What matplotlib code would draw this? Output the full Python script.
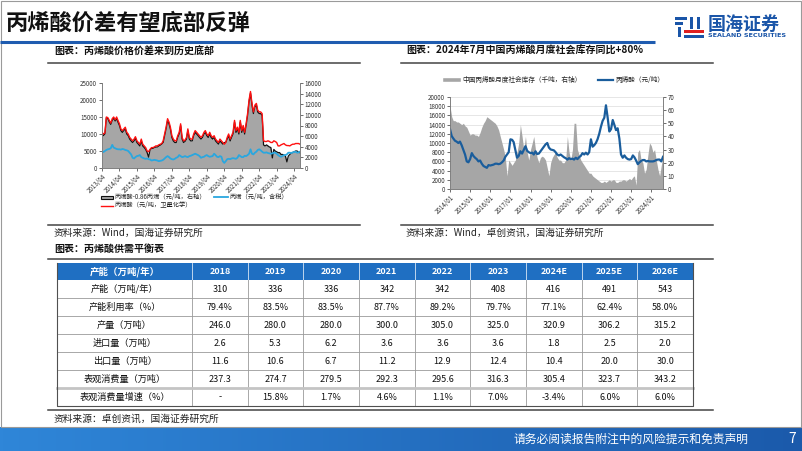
import numpy as np
import pandas as pd
import matplotlib
matplotlib.use("Agg")
import matplotlib.pyplot as plt
from matplotlib.patches import Rectangle
from matplotlib.colors import LinearSegmentedColormap

plt.rcParams['font.family'] = ['Noto Sans CJK SC', 'DejaVu Sans']
plt.rcParams['axes.unicode_minus'] = False

W, H = 802, 451

# ---------------- left chart: monthly from 2013/04 ----------------
left_start = '2013-04-01'
# 丙烯酸（元/吨，卫星化学） - left axis
acrylic_price = [
    10500, 10000, 10300, 15000, 14800, 14000, 13200, 14500, 15000,
    14200, 15000, 14000, 13000, 11500, 11000, 11500, 12000, 10500, 10000, 9000, 8500,
    8000, 8500, 9200, 8000, 7500, 7000, 8500, 7000, 6500, 6000, 5000, 4800,
    5500, 6000, 6000, 6200, 6500, 6500, 6800, 7000, 7200, 8000, 10000, 12000,
    14500, 13500, 12000, 9500, 8500, 8000, 8000, 9500, 10500, 13000, 9000, 8000,
    8200, 9000, 11500, 9000, 8500, 8500, 10000, 11000, 10500, 10000, 9500, 9000,
    9500, 10500, 11000, 10000, 9500, 10500, 9500, 9000, 9500, 8500, 8000, 7500,
    8500, 8000, 7500, 7000, 7500, 9000, 10000, 8500, 9500, 10500, 14000, 11000,
    12000, 10500, 14000, 11000, 12500, 10500, 13000, 16000, 20000, 22500, 19000, 16500,
    18500, 19000, 17000, 16500, 16500, 16000, 8000, 7800, 7800, 8000, 7800, 7500,
    7500, 8000, 7800, 7500, 6500, 6500, 6800, 7000, 7200, 6800, 6600, 6600,
    6500, 6800, 7000, 7000, 7200, 7200, 7200, 7000,
]
# 丙烯（元/吨，含税） - left axis
propylene_price = [
    4900, 4700, 5000, 5300, 5500, 5600, 5800, 6800, 6000,
    5800, 5600, 5500, 5500, 5400, 5600, 5500, 5300, 5200, 5000, 4500, 4000,
    3000, 2800, 3200, 3500, 3600, 3800, 3200, 3000, 2800, 2700, 2800, 2600,
    2500, 2200, 2300, 2400, 2300, 2200, 2000, 2100, 2200, 2400, 2800, 3200,
    3500, 3200, 2800, 2600, 2500, 2700, 3000, 3200, 3800, 3500, 3200, 3300,
    3500, 3300, 3200, 3500, 3600, 3800, 4000, 4200, 4000, 3800, 3500, 3000,
    3200, 3300, 3600, 3800, 3500, 3300, 3400, 3500, 4200, 3800, 3300, 3200,
    3500, 3300, 2000, 1500, 2000, 2600, 2700, 2600, 2800, 2900, 2800, 2700,
    3000, 3800, 3500, 3200, 3200, 3600, 3500, 3800, 4200, 5500, 4200, 4000,
    4500, 4800, 5300, 5500, 5200, 4800, 4500, 4500, 4600, 4400, 4300, 4200,
    4300, 4500, 4500, 4200, 3800, 3500, 3300, 3500, 3800, 3800, 4000, 4500,
    4500, 4400, 4600, 4700, 4800, 4500, 4600, 4800,
]
# 丙烯酸-0.86丙烯（元/吨，右轴）
spread = [
    6600, 6100, 6400, 9450, 9300, 8650, 8200, 8950, 9400,
    8850, 9300, 8650, 8000, 7050, 6700, 7050, 7350, 6400, 6100, 5450, 5100,
    4800, 5100, 5650, 4800, 4500, 4150, 5100, 4150, 3850, 3500, 2900, 2050,
    3400, 3700, 3700, 3850, 3950, 3950, 4150, 4300, 4500, 4800, 6100, 7350,
    8950, 8300, 7350, 5750, 5100, 4800, 4800, 5750, 6400, 8000, 5450, 4800,
    5000, 5450, 7050, 5450, 5100, 5100, 6100, 6700, 6400, 6100, 5750, 5450,
    5750, 6400, 6700, 6100, 5750, 6400, 5750, 5450, 5750, 5100, 4800, 4500,
    5100, 4800, 4500, 4800, 4800, 5450, 6100, 5100, 5750, 6400, 8650, 6700,
    7350, 6400, 8650, 6700, 7700, 6400, 8000, 9900, 12500, 14100, 11850, 10250,
    11500, 11850, 10550, 10250, 10250, 9900, 4350, 4150, 4350, 4150, 3950, 3850,
    1900, 3500, 3200, 3050, 2900, 2900, 2550, 2550, 2450, 2250, 1150, 2250,
    2550, 2800, 2900, 3050, 3200, 3200, 2950, 2900,
]
left_tick_labels = ['2013/04', '2014/04', '2015/04', '2016/04', '2017/04', '2018/04',
                    '2019/04', '2020/04', '2021/04', '2022/04', '2023/04', '2024/04']

# ---------------- right chart: monthly from 2014/01 ----------------
right_start = '2014-01-01'
# 丙烯酸（元/吨） - left axis
acrylic_monthly = [
    13000, 11500, 11000, 10500, 10300, 10000, 10300, 9500, 8500, 7500, 6000, 5800,
    6500, 7800, 7200, 6800, 6500, 6000, 6200, 5500, 5000, 4800, 4600, 5200,
    5100, 5200, 5300, 5500, 5500, 5400, 5500, 5800, 6200, 7000, 7500, 8000,
    10800, 10700, 10200, 8500, 6800, 7200, 8200, 7700, 8500, 9300, 8300, 8000,
    7800, 7900, 7500, 8200, 7600, 7700, 8200, 8700, 9200, 9700, 10000, 9000,
    8600, 8500, 8400, 8000, 7500, 7300, 7500, 7200, 6900, 6700, 6400, 6700,
    6500, 6600, 6400, 6800, 6500, 6900, 7200, 7800, 7500, 7900, 7500, 8000,
    10800, 9200, 9500, 10000, 10800, 12000, 13500, 14800, 15500, 18200, 15500, 12500,
    13000, 15000, 14000, 12800, 13200, 11000, 7500, 6800, 7300, 6800, 6500, 6400,
    6500, 7300, 6900, 6200, 5400, 5800, 6100, 6300, 6300, 6000, 6100, 6000,
    6000, 6000, 6100, 6300, 6400, 6400, 6000, 7000,
]
# 中国丙烯酸月度社会库存（千吨，右轴）
inventory = [
    63, 55, 52, 52, 51, 51, 50, 49, 50, 48, 47, 44,
    41, 42, 42, 41, 41, 40, 43, 47, 50, 52, 55, 54,
    53, 52, 51, 50, 48, 45, 40, 35, 30, 24, 10, 22,
    20, 18, 20, 22, 28, 35, 49, 40, 30, 40, 28, 22,
    30, 35, 40, 30, 24, 20, 24, 25, 24, 22, 16, 10,
    20, 24, 26, 28, 24, 22, 22, 20, 20, 22, 40, 28,
    22, 30, 50, 50, 30, 26, 22, 20, 18, 16, 14, 12,
    12, 10, 9, 8, 7, 6, 5, 5, 6, 5, 6, 7,
    6, 7, 7, 5, 5, 6, 6, 7, 7, 6, 7, 8,
    7, 9, 10, 3, 28, 30, 22, 20, 12, 15, 26, 35,
    33, 28, 30, 22, 15, 10, 18, 25,
]
right_tick_labels = ['2014/01', '2015/01', '2016/01', '2017/01', '2018/01', '2019/01',
                     '2020/01', '2021/01', '2022/01', '2023/01', '2024/01']

# ---------------- table ----------------
years = ['2018', '2019', '2020', '2021', '2022', '2023', '2024E', '2025E', '2026E']
row_labels = ['产能（万吨/年）', '产能利用率（%）', '产量（万吨）', '进口量（万吨）',
              '出口量（万吨）', '表观消费量（万吨）', '表观消费量增速（%）']
capacity = [310, 336, 336, 342, 342, 408, 416, 491, 543]
utilization = [79.4, 83.5, 83.5, 87.7, 89.2, 79.7, 77.1, 62.4, 58.0]
production = [246.0, 280.0, 280.0, 300.0, 305.0, 325.0, 320.9, 306.2, 315.2]
imports = [2.6, 5.3, 6.2, 3.6, 3.6, 3.6, 1.8, 2.5, 2.0]
exports = [11.6, 10.6, 6.7, 11.2, 12.9, 12.4, 10.4, 20.0, 30.0]
consumption = [237.3, 274.7, 279.5, 292.3, 295.6, 316.3, 305.4, 323.7, 343.2]
growth = [None, 15.8, 1.7, 4.6, 1.1, 7.0, -3.4, 6.0, 6.0]

GRAY_AREA = '#a6a6a6'
RED = '#ff1010'
CYAN = '#2aa7df'
NAVY = '#1a5d9c'


def px_box(x0, y0, x1, y1):
    return [x0 / W, 1 - y1 / H, (x1 - x0) / W, (y1 - y0) / H]


fig = plt.figure(figsize=(W / 100, H / 100), dpi=100)
bg = fig.add_axes([0, 0, 1, 1])
bg.axis('off')

# footer gradient bar
cmap = LinearSegmentedColormap.from_list('foot', ['#2f86d8', '#1b5aab'])
bg.imshow(np.linspace(0, 1, 256).reshape(1, -1), cmap=cmap, aspect='auto',
          extent=[0, W, 451, 427])
bg.set_xlim(0, W)
bg.set_ylim(H, 0)

# frame
bg.add_patch(Rectangle((0.5, 0.5), W - 1.5, 426, fill=False, ec='#9a9a9a', lw=0.8))

# title
bg.text(6, 23, '丙烯酸价差有望底部反弹', fontsize=16, fontweight='bold', va='center', color='#111111')
bg.plot([0, 655], [42, 42], color='#1f5cb0', lw=2.2, solid_capstyle='butt')

# logo
logo_blue = '#1a55a8'
for (x0, y0, w, h) in [(675, 17, 12, 2.5), (675, 22, 8, 2.5), (678, 27, 3, 10),
                       (690, 17, 3, 12), (697, 17, 3, 12), (684, 34.5, 20, 3)]:
    bg.add_patch(Rectangle((x0, y0), w, h, color=logo_blue, lw=0))
bg.add_patch(Rectangle((684, 30), 20, 3, color='#e02020', lw=0))
bg.text(708, 24, '国海证券', fontsize=13, fontweight='bold', color=logo_blue, va='center')
bg.text(708.5, 35.5, 'SEALAND SECURITIES', fontsize=4.6, fontweight='bold', color=logo_blue,
        va='center', family=['DejaVu Sans'])

# section headers and rules
hdr_kw = dict(fontsize=7.2, fontweight='bold', va='center', color='#111111')
bg.text(54, 51, '图表：丙烯酸价格价差来到历史底部', **hdr_kw)
bg.text(406, 51, '图表：2024年7月中国丙烯酸月度社会库存同比+80%', **hdr_kw)
for y in (62.5, 224.5):
    bg.plot([48, 360], [y, y], color='#444444', lw=1.1)
    bg.plot([401, 713], [y, y], color='#444444', lw=1.1)
src_kw = dict(fontsize=7, va='center', color='#222222')
bg.text(54, 233, '资料来源：Wind，国海证券研究所', **src_kw)
bg.text(406, 233, '资料来源：Wind，卓创资讯，国海证券研究所', **src_kw)
bg.text(54, 249, '图表：丙烯酸供需平衡表', **hdr_kw)
bg.plot([48, 713], [258.5, 258.5], color='#444444', lw=1.1)
bg.plot([48, 713], [410, 410], color='#444444', lw=1.1)
bg.text(54, 418.5, '资料来源：卓创资讯，国海证券研究所', **src_kw)

# footer text
bg.text(513, 439, '请务必阅读报告附注中的风险提示和免责声明', fontsize=8.5, color='white', va='center')
bg.text(788, 439, '7', fontsize=10, color='white', va='center')

# legends (drawn by hand so the small CJK labels don't collide with the keys)
leg_kw = dict(fontsize=4.5, va='center', color='#222222')
bg.add_patch(Rectangle((101, 195.5), 12, 3.2, fc=GRAY_AREA, ec='#111111', lw=0.8))
bg.text(115, 197, '丙烯酸-0.86丙烯（元/吨，右轴）', **leg_kw)
bg.plot([214, 228], [197, 197], color=CYAN, lw=1.3)
bg.text(230, 197, '丙烯（元/吨，含税）', **leg_kw)
bg.plot([101, 113], [205.5, 205.5], color=RED, lw=1.0)
bg.text(115, 205.5, '丙烯酸（元/吨，卫星化学）', **leg_kw)

bg.plot([445, 459], [80, 80], color=GRAY_AREA, lw=2.6)
bg.text(462, 80, '中国丙烯酸月度社会库存（千吨，右轴）', fontsize=4.8, va='center', color='#222222')
bg.plot([598, 613], [80, 80], color=NAVY, lw=1.6)
bg.text(615, 80, '丙烯酸（元/吨）', fontsize=4.8, va='center', color='#222222')

# ---------------- table drawing ----------------
tx0, tx1, first_w = 57, 693, 135
col_w = (tx1 - tx0 - first_w) / len(years)
col_edges = [tx0, tx0 + first_w] + [tx0 + first_w + col_w * (i + 1) for i in range(len(years))]
head_top, head_h, row_h = 263, 17, 18
row_edges = [head_top, head_top + head_h] + [head_top + head_h + row_h * (i + 1) for i in range(len(row_labels))]

bg.add_patch(Rectangle((tx0, head_top), tx1 - tx0, head_h, color='#1f6fc2', lw=0))
for x in col_edges[1:-1]:
    bg.plot([x, x], [head_top, head_top + head_h], color='#d8e6f5', lw=0.6)
    bg.plot([x, x], [row_edges[1], row_edges[-1]], color='#9a9a9a', lw=0.6)
for y in row_edges[2:-1]:
    bg.plot([tx0, tx1], [y, y], color='#9a9a9a', lw=0.6)
bg.plot([tx0, tx1], [row_edges[-2], row_edges[-2]], color='#c4c4c4', lw=2.0)
bg.plot([tx0, tx0, tx1, tx1], [head_top, row_edges[-1], row_edges[-1], head_top], color='#505050', lw=0.8)

table_rows = [
    [str(v) for v in capacity],
    [f'{v:.1f}%' for v in utilization],
    [f'{v:.1f}' for v in production],
    [f'{v:.1f}' for v in imports],
    [f'{v:.1f}' for v in exports],
    [f'{v:.1f}' for v in consumption],
    ['-' if v is None else f'{v:.1f}%' for v in growth],
]
centers_x = [(col_edges[i] + col_edges[i + 1]) / 2 for i in range(len(col_edges) - 1)]
hy = head_top + head_h / 2
bg.text(centers_x[0], hy, row_labels[0], fontsize=6.8, fontweight='bold', color='white', ha='center', va='center')
for cx, yr in zip(centers_x[1:], years):
    bg.text(cx, hy, yr, fontsize=6.5, fontweight='bold', color='white', ha='center', va='center')
for r, (lab, vals) in enumerate(zip(row_labels, table_rows)):
    cy = (row_edges[r + 1] + row_edges[r + 2]) / 2
    bg.text(centers_x[0], cy, lab, fontsize=6.6, color='#111111', ha='center', va='center')
    for cx, s in zip(centers_x[1:], vals):
        bg.text(cx, cy, s, fontsize=6.5, color='#111111', ha='center', va='center')

# ---------------- left chart ----------------
tick_kw = dict(labelsize=4.5, colors='#333333', length=2, width=0.5, pad=1.5)
axL = fig.add_axes(px_box(102, 83, 300, 168))
axLr = axL.twinx()
axL.set_zorder(axLr.get_zorder() + 1)
axL.patch.set_visible(False)
ld = pd.date_range(left_start, periods=len(acrylic_price), freq='MS')
axLr.fill_between(ld, spread, color=GRAY_AREA, lw=0)
axLr.plot(ld, spread, color='#111111', lw=0.9)
axL.plot(ld, propylene_price, color=CYAN, lw=1.3)
axL.plot(ld, acrylic_price, color=RED, lw=1.0)
axL.set_xlim(ld[0], ld[-1])
axL.set_ylim(0, 25000)
axL.set_yticks(range(0, 25001, 5000))
axLr.set_ylim(0, 16000)
axLr.set_yticks(range(0, 16001, 2000))
lt = pd.to_datetime(left_tick_labels, format='%Y/%m')
axL.set_xticks(lt)
axL.set_xticklabels(left_tick_labels, rotation=45, ha='right', rotation_mode='anchor')
for a in (axL, axLr):
    a.tick_params(**tick_kw)
    a.spines['top'].set_visible(False)
    for s in ('left', 'right', 'bottom'):
        a.spines[s].set_color('#808080')
        a.spines[s].set_linewidth(0.6)

# ---------------- right chart ----------------
axR = fig.add_axes(px_box(450, 97, 663, 189))
axRr = axR.twinx()
axR.set_zorder(axRr.get_zorder() + 1)
axR.patch.set_visible(False)
rd = pd.date_range(right_start, periods=len(inventory), freq='MS')
axRr.set_ylim(0, 70)
axR.set_ylim(0, 20000)
for v in range(2000, 20001, 2000):
    axRr.axhline(v * 70 / 20000, color='#dcdcdc', lw=0.5, zorder=0)
axRr.fill_between(rd, inventory, color=GRAY_AREA, lw=0, zorder=1)
axR.plot(rd, acrylic_monthly, color=NAVY, lw=1.6)
axR.set_xlim(rd[0], rd[-1])
axR.set_yticks(range(0, 20001, 2000))
axRr.set_yticks(range(0, 71, 10))
rt = pd.to_datetime(right_tick_labels, format='%Y/%m')
axR.set_xticks(rt)
axR.set_xticklabels(right_tick_labels, rotation=45, ha='right', rotation_mode='anchor')
for a in (axR, axRr):
    a.tick_params(**tick_kw)
    a.spines['top'].set_visible(False)
    for s in ('left', 'right', 'bottom'):
        a.spines[s].set_color('#808080')
        a.spines[s].set_linewidth(0.6)

fig.savefig('out.png', dpi=100)
